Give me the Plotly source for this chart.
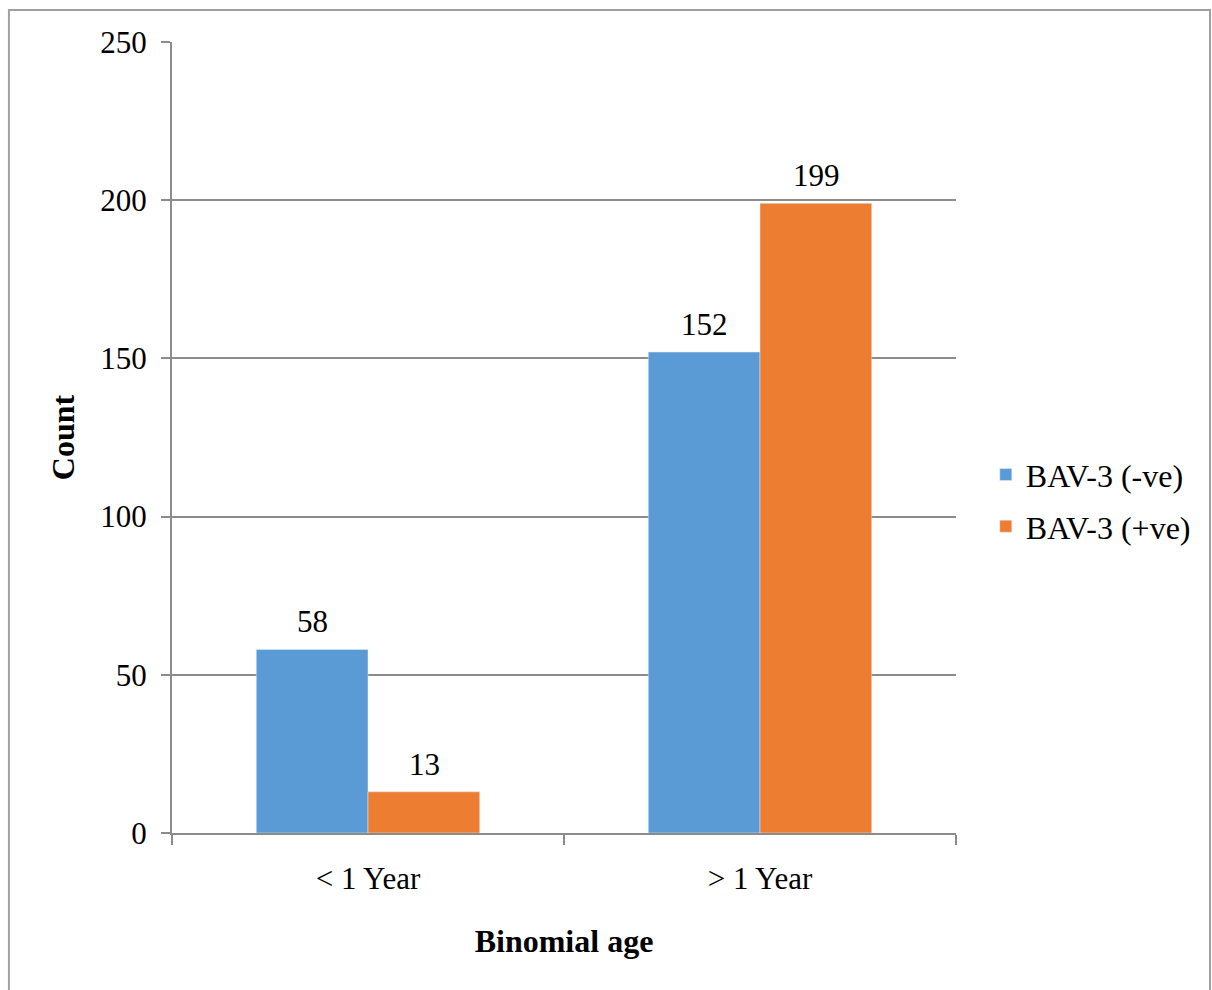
import plotly.graph_objects as go

# data
age_groups = ["< 1 Year", "> 1 Year"]
bav_neg = [58, 152]
bav_pos = [13, 199]
y_ticks = [0, 50, 100, 150, 200, 250]

BLUE = "#5B9BD5"
ORANGE = "#ED7D31"
GRID = "#8C8C8C"
FONT = "Liberation Serif, Times New Roman, serif"

fig = go.Figure()
fig.add_bar(x=age_groups, y=bav_neg, name="BAV-3 (-ve)", marker_color=BLUE,
            legendgroup="neg")
fig.add_bar(x=age_groups, y=bav_pos, name="BAV-3 (+ve)", marker_color=ORANGE,
            legendgroup="pos")

# value labels above each bar
for vals, shift in ((bav_neg, -56), (bav_pos, 56)):
    for cat, v in zip(age_groups, vals):
        fig.add_annotation(x=cat, y=v, text=str(v), showarrow=False,
                           xshift=shift, yshift=8, yanchor="bottom",
                           font=dict(size=31, color="black"))

fig.update_layout(
    width=1212, height=990,
    margin=dict(l=172, r=256, t=42, b=157),
    plot_bgcolor="white", paper_bgcolor="white",
    font=dict(family=FONT, size=31, color="black"),
    barmode="group", bargap=0.43, bargroupgap=0,
    legend=dict(x=1.038, y=0.42, xanchor="left", yanchor="middle",
                font=dict(size=32), itemwidth=30, tracegroupgap=7,
                bgcolor="rgba(0,0,0,0)"),
    showlegend=True,
)

fig.update_xaxes(
    title=dict(text="<b>Binomial age</b>", standoff=34, font=dict(size=32)),
    showline=True, linecolor=GRID, linewidth=2,
    ticks="outside", tickson="boundaries", ticklen=10, tickcolor=GRID, tickwidth=2,
    ticklabelstandoff=17, showgrid=False,
)
fig.update_yaxes(
    title=dict(text="<b>Count</b>", standoff=16, font=dict(size=32)),
    range=[0, 250], tickvals=y_ticks,
    showline=True, linecolor=GRID, linewidth=2,
    ticks="outside", ticklen=9, tickcolor=GRID, tickwidth=2,
    ticklabelstandoff=8,
    showgrid=True, gridcolor=GRID, gridwidth=1.5, zeroline=False,
)

# chart frame like the spreadsheet chart border
fig.add_shape(type="rect", xref="paper", yref="paper",
              x0=-0.208, x1=1.324, y0=-0.25, y1=1.0405,
              line=dict(color="#A0A0A0", width=2), layer="below")

fig.write_html("out.html", config={"displayModeBar": False},
               post_script="document.body.style.margin='0';")
